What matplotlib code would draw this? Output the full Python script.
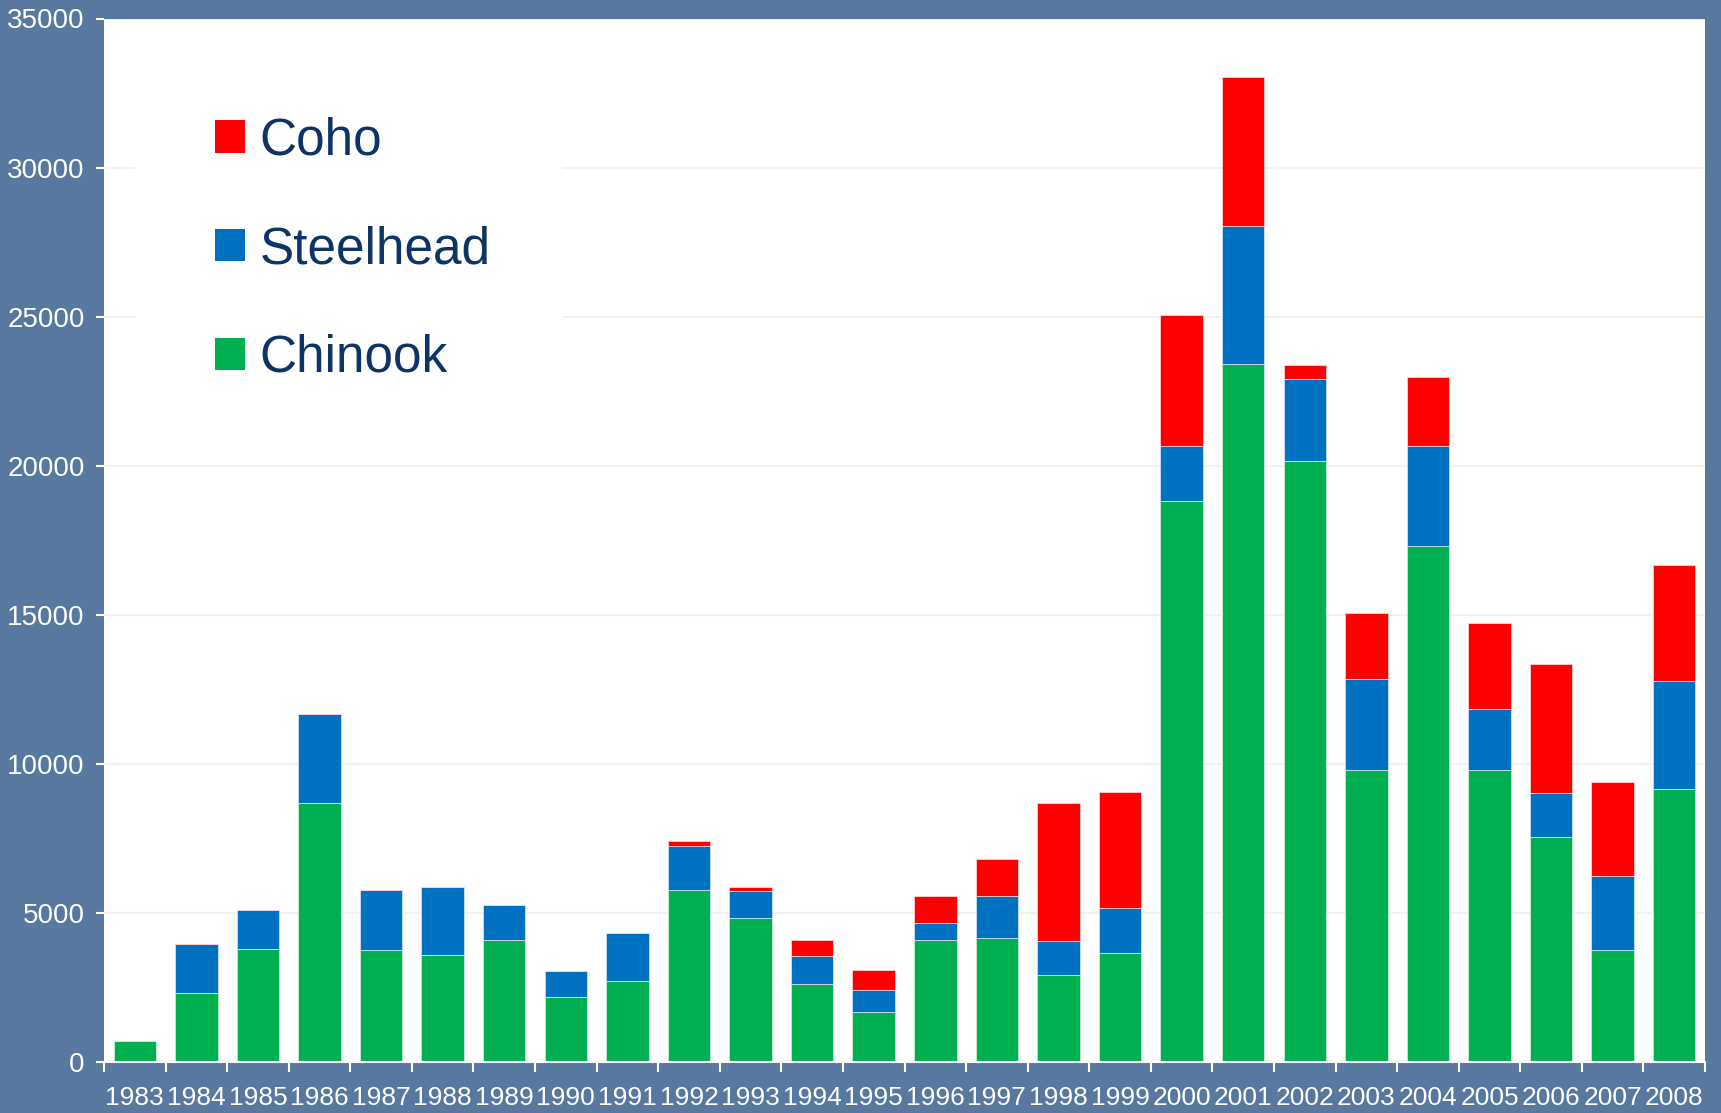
import numpy as np
import matplotlib.pyplot as plt
from matplotlib.patches import Patch, Rectangle

plt.rcParams['font.family'] = ['Liberation Sans', 'DejaVu Sans']

years = [str(y) for y in range(1983, 2009)]
chinook = [720, 2300, 3800, 8690, 3770, 3590, 4100, 2190, 2730, 5780, 4840, 2620, 1680,
           4100, 4150, 2920, 3660, 18800, 23400, 20150, 9790, 17300, 9790, 7540, 3760, 9160]
steelhead = [0, 1670, 1300, 2980, 2000, 2270, 1180, 860, 1600, 1470, 890, 920, 740,
             550, 1410, 1150, 1510, 1860, 4650, 2760, 3050, 3370, 2060, 1480, 2470, 3610]
coho = [0, 0, 0, 0, 0, 0, 0, 0, 0, 150, 150, 560, 660,
        920, 1250, 4620, 3880, 4380, 4990, 480, 2210, 2320, 2870, 4340, 3150, 3900]

green = '#00b050'
blue = '#0070c0'
red = '#ff0000'
bg = '#5878a0'

fig = plt.figure(figsize=(17.21, 11.13), dpi=100)
fig.patch.set_facecolor(bg)
ax = fig.add_axes([104 / 1721, 51 / 1113, 1601 / 1721, 1043.5 / 1113])
ax.set_facecolor('white')

x = np.arange(len(years))
chinook = np.array(chinook)
steelhead = np.array(steelhead)
coho = np.array(coho)
w = 0.69
ax.bar(x, chinook, w, color=green, edgecolor='#cfe8d8', linewidth=0.6)
ax.bar(x, steelhead, w, bottom=chinook, color=blue, edgecolor='#cfe0f0', linewidth=0.6)
ax.bar(x, coho, w, bottom=chinook + steelhead, color=red, edgecolor='#ffd0d0', linewidth=0.6)

ax.set_xlim(-0.5, len(years) - 0.5)
ax.set_ylim(0, 35000)
ax.set_yticks(np.arange(0, 35001, 5000))
ax.grid(axis='y', color='#f2f2f2', linewidth=1.5)
ax.set_axisbelow(True)

ax.set_xticks(x)
ax.set_xticklabels(years)
ax.set_xticks(np.arange(-0.5, len(years), 1), minor=True)
ax.tick_params(axis='x', which='major', length=0, pad=17, labelsize=19, labelcolor='white')
ax.tick_params(axis='x', which='minor', length=7, width=1.5, color='white')
ax.tick_params(axis='y', length=6, width=1.5, color='white', pad=8, labelsize=20, labelcolor='white')

for s in ['top', 'right']:
    ax.spines[s].set_visible(False)
ax.spines['left'].set_color('white')
ax.spines['bottom'].set_color('white')
ax.spines['bottom'].set_linewidth(1.5)
ax.spines['left'].set_linewidth(0)

# white block behind the legend hides the gridlines
ax.add_patch(Rectangle(((135 - 104) / 1601, (1062 - 440) / 1043.5), 427 / 1601, 400 / 1043.5,
                       transform=ax.transAxes, facecolor='white', edgecolor='none', zorder=0.8))

handles = [Patch(facecolor=red), Patch(facecolor=blue), Patch(facecolor=green)]
leg = ax.legend(handles, ['Coho', 'Steelhead', 'Chinook'], loc='upper left',
                bbox_to_anchor=(0.0693, 0.906), fontsize=37, frameon=False,
                handlelength=0.59, handleheight=0.59, handletextpad=0.28,
                labelspacing=1.16, borderpad=0, borderaxespad=0)
for t in leg.get_texts():
    t.set_color('#0d3466')

fig.savefig('out.png', dpi=100, facecolor=bg)
